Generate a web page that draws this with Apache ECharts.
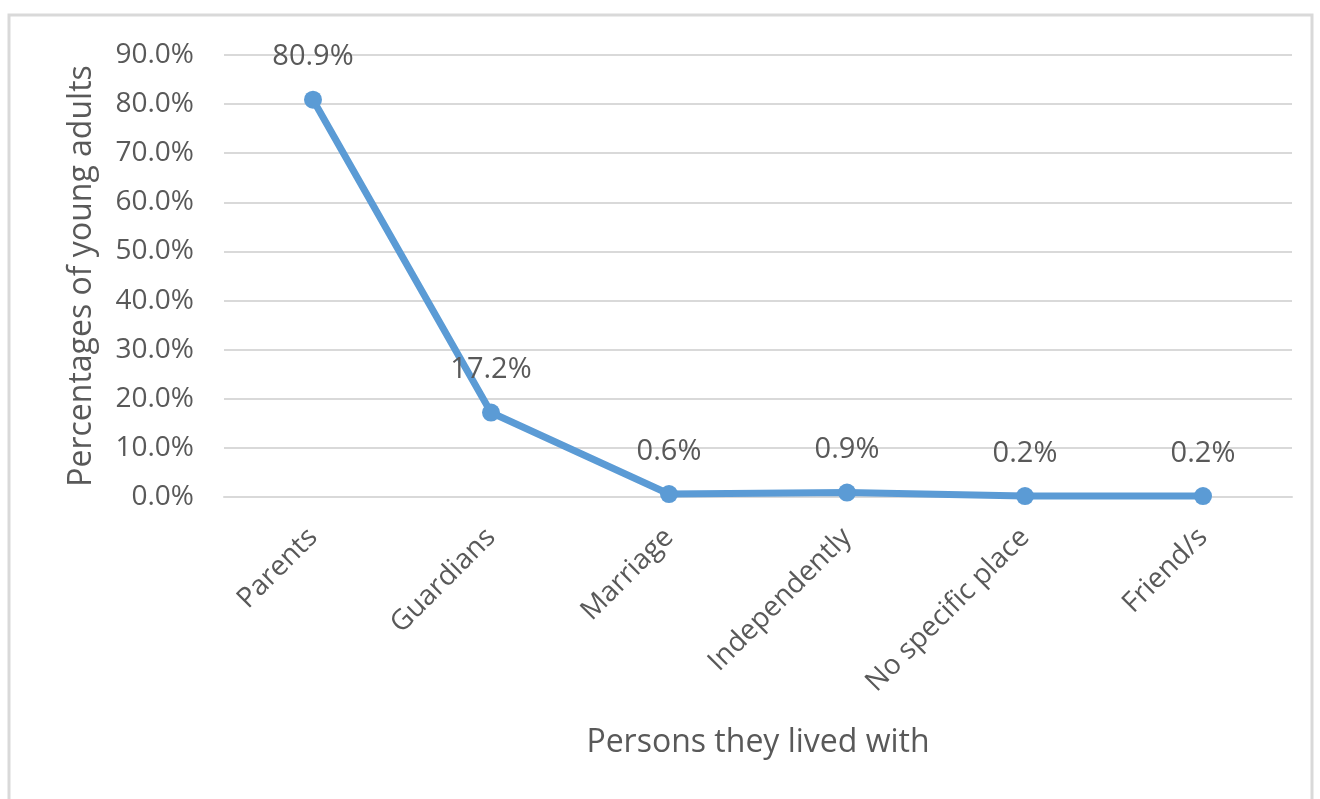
<!DOCTYPE html>
<html>
<head>
<meta charset="utf-8">
<script src="https://cdn.jsdelivr.net/npm/echarts@6/dist/echarts.min.js"></script>
<style>
  html, body { margin: 0; padding: 0; background: #fff; }
  #chart { width: 1320px; height: 799px; }
</style>
</head>
<body>
<div id="chart"></div>
<script>
// who the young adults lived with
var categories = ['Parents', 'Guardians', 'Marriage', 'Independently', 'No specific place', 'Friend/s']
var percentages = [80.9, 17.2, 0.6, 0.9, 0.2, 0.2]
var yTicks = [0, 10, 20, 30, 40, 50, 60, 70, 80, 90]

var textColor = '#595959'
var font = 'Open Sans'

var chart = echarts.init(document.getElementById('chart'))
chart.setOption({
  animation: false,
  graphic: [
    {
      type: 'rect',
      shape: { x: 9, y: 15, width: 1303, height: 800 },
      style: { fill: 'none', stroke: '#d9d9d9', lineWidth: 3 }
    }
  ],
  grid: {
    left: 224,
    right: 28,
    top: 55,
    bottom: 302
  },
  xAxis: {
    type: 'category',
    data: categories,
    name: 'Persons they lived with',
    nameLocation: 'middle',
    nameGap: 230,
    nameTextStyle: { color: textColor, fontSize: 32, fontFamily: font },
    axisLine: { show: true, lineStyle: { color: '#d9d9d9', width: 2 } },
    axisTick: { show: false },
    axisLabel: {
      rotate: 45,
      interval: 0,
      margin: 36,
      color: textColor,
      fontSize: 28,
      fontFamily: font
    }
  },
  yAxis: {
    type: 'value',
    min: yTicks[0],
    max: yTicks[yTicks.length - 1],
    interval: 10,
    name: 'Percentages of young adults',
    nameLocation: 'middle',
    nameGap: 126,
    nameTextStyle: { color: textColor, fontSize: 32, fontFamily: font },
    axisLine: { show: false },
    axisTick: { show: false },
    splitLine: { lineStyle: { color: '#d9d9d9', width: 2 } },
    axisLabel: {
      margin: 30,
      color: textColor,
      fontSize: 28,
      fontFamily: font,
      formatter: function (v) { return v.toFixed(1) + '%' }
    }
  },
  series: [
    {
      type: 'line',
      data: percentages,
      symbol: 'circle',
      symbolSize: 18,
      lineStyle: { color: '#5b9bd5', width: 7 },
      itemStyle: { color: '#5b9bd5' },
      label: {
        show: true,
        position: 'top',
        distance: 19,
        color: textColor,
        fontSize: 29,
        fontFamily: font,
        formatter: function (p) { return p.value.toFixed(1) + '%' }
      }
    }
  ]
})
</script>
</body>
</html>
